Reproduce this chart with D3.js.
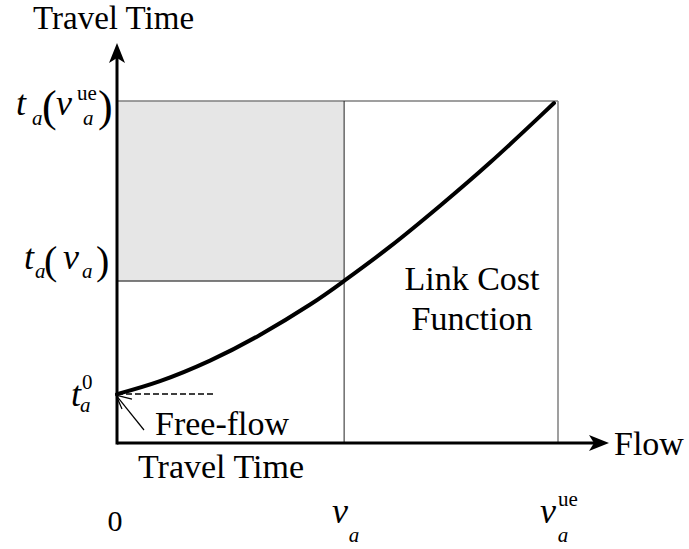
<!DOCTYPE html>
<html><head><meta charset="utf-8">
<script src="https://cdn.jsdelivr.net/npm/d3@7"></script>
<style>body{margin:0;background:#fff}</style>
</head><body><svg id="c" width="689" height="549"></svg>
<script>
// Link cost curve points (flow, travel time)
const flow = [0, 9.75, 21.1, 32.4, 43.8, 51.5, 61.9, 73.2, 84.6, 95.9, 99.1];
const travelTime = [14.3, 18.1, 24.1, 31.6, 40.5, 47.4, 57.4, 69.3, 82.0, 95.5, 99.4];
// Key marks
const flowMarks = [0, 51.5, 100];          // 0, v_a, v_a^ue
const timeMarks = [14.3, 47.4, 100];       // t_a^0, t_a(v_a), t_a(v_a^ue)
const axisTitles = ["Travel Time", "Flow"];
const notes = [["Free-flow", "Travel Time"], ["Link Cost", "Function"]];

const FONT = "'Liberation Serif', 'Times New Roman', Tinos, 'DejaVu Serif', serif";
const svg = d3.select("#c");
const x = d3.scaleLinear().domain([0, 100]).range([117, 558]);
const y = d3.scaleLinear().domain([0, 100]).range([443, 101]);
const [f0, vA, vUE] = flowMarks;
const [t0, tVA, tUE] = timeMarks;

// shaded rectangle
svg.append("rect").attr("x", x(0)).attr("y", y(tUE)).attr("width", x(vA) - x(0)).attr("height", y(tVA) - y(tUE))
  .attr("fill", "#e6e6e6");
// guide lines
svg.append("line").attr("x1", x(0)).attr("x2", x(vUE)).attr("y1", y(tUE)).attr("y2", y(tUE)).attr("stroke", "#7f7f7f").attr("stroke-width", 1.5);
svg.append("line").attr("x1", x(vUE)).attr("x2", x(vUE)).attr("y1", y(tUE)).attr("y2", y(0)).attr("stroke", "#7f7f7f").attr("stroke-width", 1.5);
svg.append("line").attr("x1", x(0)).attr("x2", x(vA)).attr("y1", y(tVA)).attr("y2", y(tVA)).attr("stroke", "#555").attr("stroke-width", 1.5);
svg.append("line").attr("x1", x(vA)).attr("x2", x(vA)).attr("y1", y(tUE)).attr("y2", y(0)).attr("stroke", "#222").attr("stroke-width", 1);
// dashed free-flow line
svg.append("line").attr("x1", x(0)).attr("x2", x(21.8)).attr("y1", y(t0)).attr("y2", y(t0))
  .attr("stroke", "#000").attr("stroke-width", 1.5).attr("stroke-dasharray", "6,3");

// curve
const pts = flow.map((f, i) => [f, travelTime[i]]);
svg.append("path").datum(pts)
  .attr("d", d3.line().x(d => x(d[0])).y(d => y(d[1])).curve(d3.curveNatural))
  .attr("fill", "none").attr("stroke", "#000").attr("stroke-width", 4).attr("stroke-linecap", "round");

// axes
const xEnd = 609, yEnd = 43;
svg.append("line").attr("x1", x(0)).attr("x2", xEnd - 10).attr("y1", y(0)).attr("y2", y(0)).attr("stroke", "#000").attr("stroke-width", 3);
svg.append("line").attr("x1", x(0)).attr("x2", x(0)).attr("y1", y(0) + 1.5).attr("y2", yEnd + 10).attr("stroke", "#000").attr("stroke-width", 3);
// arrowheads (stealth style)
svg.append("path").attr("d", `M${x(0)},${yEnd} L${x(0) + 8},${yEnd + 20} L${x(0)},${yEnd + 15} L${x(0) - 8},${yEnd + 20} Z`).attr("fill", "#000");
svg.append("path").attr("d", `M${xEnd},${y(0)} L${xEnd - 20},${y(0) - 8} L${xEnd - 15},${y(0)} L${xEnd - 20},${y(0) + 8} Z`).attr("fill", "#000");

// annotation arrow to free-flow point
const tipX = x(0) - 1, tipY = y(t0) + 1;
svg.append("line").attr("x1", 144).attr("y1", 430).attr("x2", tipX).attr("y2", tipY).attr("stroke", "#000").attr("stroke-width", 1.2);
svg.append("path").attr("d", `M${tipX + 16},${tipY + 4} L${tipX},${tipY} L${tipX + 6},${tipY + 14}`).attr("fill", "none").attr("stroke", "#000").attr("stroke-width", 1.2);

// texts
function T(txt, px, py, size, opts = {}) {
  const t = svg.append("text").attr("x", px).attr("y", py).attr("font-size", size)
    .attr("font-family", FONT).attr("fill", "#000").text(txt);
  if (opts.italic) t.attr("font-style", "italic");
  if (opts.anchor) t.attr("text-anchor", opts.anchor);
  return t;
}
T(axisTitles[0], 33, 29, 33);
T(axisTitles[1], 614, 455, 34);
T(notes[0][0], 222, 435, 34, {anchor: "middle"});
T(notes[0][1], 221, 478, 34, {anchor: "middle"});
T(notes[1][0], 472, 290, 34, {anchor: "middle"});
T(notes[1][1], 472, 330, 34, {anchor: "middle"});

// x tick labels
T("0", x(f0) - 2, 531, 30, {anchor: "middle"});
T("v", x(vA) - 4, 523, 36, {italic: true, anchor: "middle"});
T("a", x(vA) + 10, 542, 21, {italic: true, anchor: "middle"});
T("v", x(vUE) - 10, 523, 36, {italic: true, anchor: "middle"});
T("a", x(vUE) + 5, 542, 21, {italic: true, anchor: "middle"});
T("ue", x(vUE) + 10, 506, 21, {anchor: "middle"});

// y tick labels
// t_a(v_a^ue)
T("t", 16, y(tUE) + 14, 36, {italic: true});
T("a", 32, y(tUE) + 24, 21, {italic: true});
T("(", 42, y(tUE) + 20, 44);
T("v", 56, y(tUE) + 14, 36, {italic: true});
T("ue", 77, y(tUE) - 1, 21);
T("a", 83, y(tUE) + 24, 21, {italic: true});
T(")", 98, y(tUE) + 20, 44);
// t_a(v_a)
T("t", 24, y(tVA) - 12, 36, {italic: true});
T("a", 35, y(tVA) - 3, 21, {italic: true});
T("(", 44, y(tVA) - 7, 40);
T("v", 63, y(tVA) - 12, 36, {italic: true});
T("a", 82, y(tVA) - 3, 21, {italic: true});
T(")", 96, y(tVA) - 7, 40);
// t_a^0
T("t", 71, y(t0) + 12, 36, {italic: true});
T("0", 82, y(t0) - 5, 21);
T("a", 80, y(t0) + 18, 21, {italic: true});
</script></body></html>
